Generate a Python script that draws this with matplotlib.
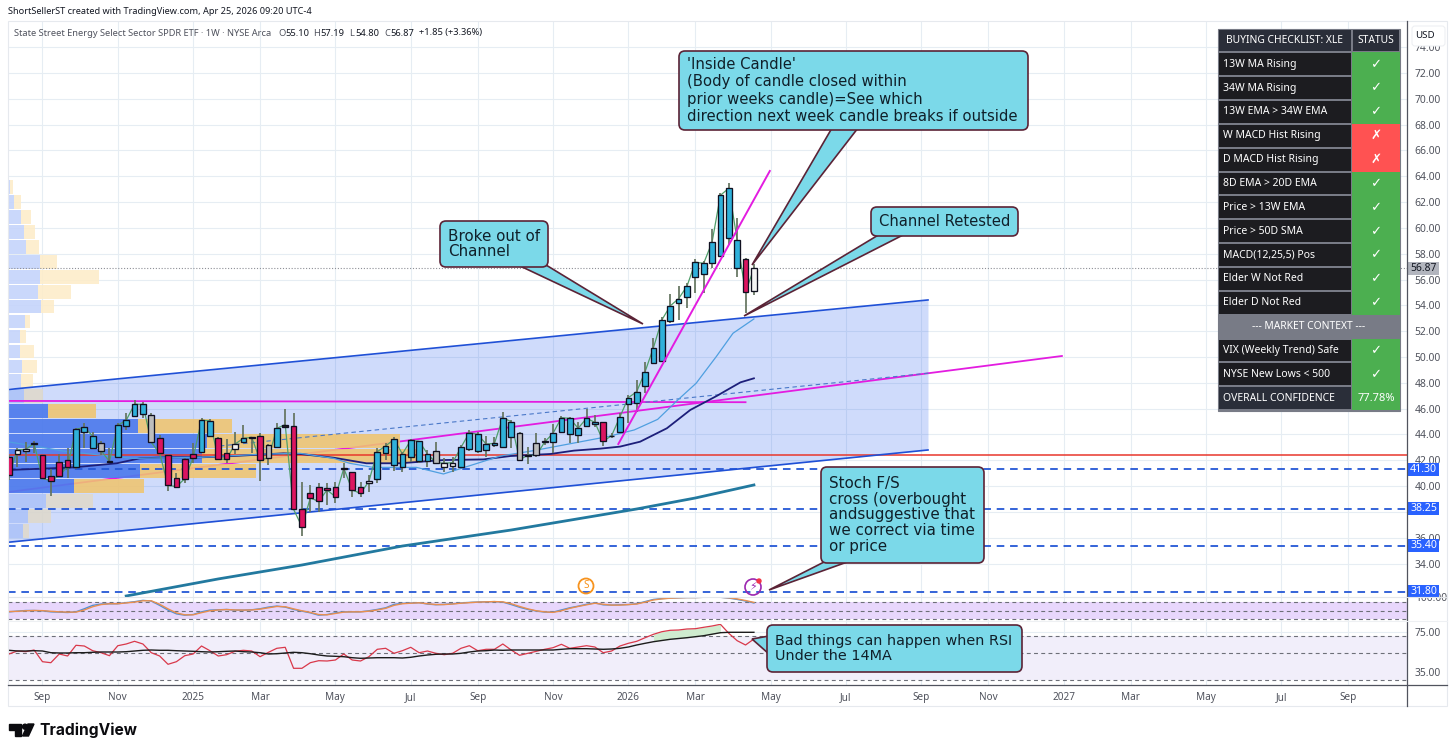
import matplotlib
matplotlib.use('Agg')
import matplotlib.pyplot as plt
from matplotlib.patches import FancyBboxPatch, Polygon, Circle, Rectangle
import numpy as np

W, H = 1456, 754
BODY_FONT = 'DejaVu Sans'
THIN_FONT = 'Noto Sans'

# weekly candles, prices
body_top = [42.23,42.80,42.85,43.31,42.41,40.76,41.89,42.02,44.40,44.55,43.88,43.31,41.92,44.71,45.10,46.34,46.34,45.51,43.70,42.41,
            40.60,42.07,42.46,45.10,45.07,43.70,42.54,43.26,43.70,43.78,43.88,43.16,44.48,44.76,44.68,38.20,39.44,39.91,39.85,39.91,
            41.38,41.07,39.96,40.37,42.67,43.11,43.62,42.49,43.55,43.47,42.49,42.75,41.77,41.82,43.00,44.14,44.01,43.26,43.31,45.30,
            44.99,44.09,42.41,43.31,43.52,44.09,45.30,45.25,44.48,45.25,44.94,44.94,43.91,45.38,46.85,47.32,48.87,50.73,52.87,53.96,
            54.52,55.48,57.34,57.26,58.89,62.53,63.07,59.07,57.57,56.87]
body_bot = [40.84,42.49,42.69,43.26,40.60,40.42,40.81,41.51,41.45,44.17,42.98,42.75,41.84,42.23,44.68,45.46,45.56,43.39,42.54,40.06,
            39.96,40.58,42.20,42.64,43.88,42.10,42.07,42.90,43.44,43.73,42.00,42.20,43.06,44.61,38.20,36.86,39.08,38.82,39.70,39.18,
            41.33,39.70,39.44,40.22,40.58,42.54,41.61,41.51,42.23,41.92,41.97,41.82,41.48,41.53,41.51,42.90,42.69,42.77,43.19,43.06,
            43.78,42.02,42.33,42.38,43.42,43.39,44.19,44.04,43.93,44.66,44.81,43.47,43.86,44.17,46.34,46.41,47.76,49.51,49.72,52.82,
            54.16,54.63,56.18,56.41,57.31,57.85,59.20,56.92,55.01,55.10]
wick_hi = [42.41,42.93,43.44,43.49,42.41,41.30,42.49,42.93,44.48,44.86,44.22,43.49,42.93,44.86,45.64,46.67,46.54,45.64,43.96,42.41,
           41.04,42.15,43.31,45.30,45.17,43.78,43.62,44.17,44.71,43.83,44.09,43.24,44.92,45.95,45.64,40.35,40.09,40.22,40.27,40.35,
           41.82,41.07,40.35,40.86,42.93,43.31,43.83,42.67,43.62,43.49,42.80,43.44,42.15,42.28,43.19,44.35,44.22,43.88,43.83,45.72,
           45.12,44.22,43.06,44.09,43.70,44.79,45.43,45.33,44.99,45.95,45.51,44.99,44.09,45.64,47.06,48.22,49.64,51.45,53.08,54.86,
           55.50,55.76,57.57,57.47,59.89,62.73,63.46,60.75,57.65,57.19]
wick_lo = [40.47,41.45,41.89,42.59,40.60,39.26,40.73,40.65,41.30,42.93,42.93,42.41,41.84,42.15,44.35,45.38,45.25,43.31,42.49,39.65,
           39.83,40.27,41.77,42.54,43.83,42.07,41.77,42.49,43.37,42.59,40.40,41.64,43.06,44.61,38.15,36.14,38.02,38.02,38.54,38.72,
           40.60,39.13,39.18,39.57,40.22,42.02,41.20,41.12,41.89,41.77,41.51,41.71,41.12,41.12,41.38,42.72,42.54,42.23,43.06,43.00,
           42.93,41.94,41.71,42.28,43.19,42.59,44.09,43.31,43.31,44.55,44.61,43.13,43.70,44.09,44.86,45.77,47.24,49.46,49.64,52.66,
           52.87,53.77,54.99,54.94,56.87,57.73,58.68,56.18,53.39,54.80]
candle_kind = list('rwwwrrrrbbbgkbbbbgrrrrrbbrrwbkrgbkrrrrrrkrrwbbbbbbbgwwbbbbbbbgkggbbbbbbrkb' + 'bbbbbbbbbbbbbb' + 'rw')

week_ticks = [4,13,22,30,39,48,56,65,74,82,91,100,109,117,126,134,143,152,160]
week_labels = ['Sep','Nov','2025','Mar','May','Jul','Sep','Nov','2026','Mar','May','Jul','Sep','Nov','2027','Mar','May','Jul','Sep']
price_ticks = [34,36,40,42,44,46,48,50,52,54,56,58,60,62,64,66,68,70,72,74]
grid_levels = [34,36,38,40,42,44,46,48,50,52,54,56,58,60,62,64,66,68,70,72,74]

# trend lines as (week, price) ends
chan_x = [-0.12, 109.8]
chan_up = [47.48, 54.42]
chan_lo = [35.65, 42.80]
mid_x = [-0.12, 125.8]
mid_y = [39.54, 50.08]
dash_x = [25.2, 110]
dash_y = [43.11, 48.76]
steep_x = [72.8, 90.9]
steep_y = [43.26, 64.41]
flat_x = [-0.12, 88]
flat_y = [46.6, 46.5]
red_level = 42.41
levels = [41.30, 38.25, 35.40, 31.80]
last_close = 56.87

teal_x = [14,25,35,47,60,75,82,89]
teal_y = [31.49,32.81,33.89,35.36,36.60,38.23,39.08,40.09]
navy_x = [0,7.7,12.9,15.6,18.8,22.8,26.8,32.8,34.8,38.8,42.7,46.7,51.9,56.7,59.9,64.7,67.5,70.6,73,75.4,78.6,81.4,84.6,85.8,87.4,89]
navy_y = [41.25,41.45,41.77,42.15,42.23,42.23,42.33,42.54,42.49,42.2,41.77,41.77,42.02,42.07,42.33,42.49,42.75,42.9,43.06,43.44,44.48,45.9,47.0,47.45,48.04,48.35]
sky_x = [0,3,6.9,10.9,14.8,22.8,30.8,34.8,38.8,40.7,43.5,46.7,48.7,51.9,54.7,58.7,62.7,66.7,71.5,74.7,77.5,79.9,82.1,84.5,86.5,89]
sky_y = [43.42,43.11,42.67,42.41,42.15,42.23,42.49,42.54,42.15,41.77,41.45,41.45,41.45,40.94,41.51,42.33,42.75,43.24,43.83,44.35,45.17,46.67,47.97,50.03,51.84,52.95]

# volume profile rows (level, up width, down width)
vp_price = [63.17,62.01,60.85,59.70,58.54,57.38,56.22,55.06,53.91,52.75,51.59,50.43,49.27,48.12,46.96,45.80,44.64,43.49,42.33,41.17,40.01,38.85,37.70,36.54]
vp_up = [1.7,5.7,12.7,16.3,18,32,32.3,30.3,33,17.3,12,12,14,12.7,16,39.7,130,198.7,193.7,132,65.7,37.7,19.7,15.3]
vp_down = [3.7,7.7,10.3,10.7,12.7,17,58.3,33,13,4.7,6,14,15.3,12.7,19.3,48,94,193,217,116,70.7,47.7,23.7,5.3]
vp_kind = list('ppppppppppppppt' + 'vvvvvv' + 'ttt')

stoch_k = [45,47.6,50,50,48.9,45,44,42.6,45,56.4,69,73.9,75,75,79,82.6,87.6,85,69,51.4,37.6,32.6,35,45,51.4,52.6,53.9,51.4,51.4,52.6,
           56.4,62.6,66.4,62.6,53.9,47.6,41.4,32.6,35,41.4,45,45,45,48.9,53.9,60,72.6,76.4,77.6,79,73.9,71.4,72.6,75,77.6,80,81.4,
           82,83,81,72,62,54,48,44,44,52,60,66,73,78,71,70,71,72,75,83,91,94,96,97,98,98,99,99,99,96,91,85,78]
stoch_d = [46,47,49,50,49.5,47,45,44,44,52,64,72,75,75,78,81,86,86,73,56,41,34,34,42,49,52,53.5,52,51.5,52,
           55,60,65,64,56,49,43,35,34,39,44,45,45,47.5,52,58,69,75,77,78.5,75,72,72,74,77,79,81,
           82,83,82,75,65,56,49,45,43,49,58,65,71,77,73,70,70,72,74,81,89,93,95.5,97,98,98,99,99,99,97,93,87,80]
rsi = [53,56,55.3,57,45.3,44.3,53,51,61.7,61,56.3,54.3,51.3,61.3,63,65.7,63,54.3,51,42.7,45.3,51.3,53,61,56.3,51,52.3,55.7,56.7,56,
       50.3,54.7,58.7,59.7,38.7,38.7,44.3,46.3,46,47,53,47,46,50.3,57.7,58.7,53.7,56.3,59.7,54.3,56,53.7,52.3,53.7,58.7,61.3,56.3,57.7,57.7,
       63,57,51.7,53.7,55.7,57.7,59.3,62.7,58.7,60,61.3,60,54.3,56,61,63.7,65.7,69.3,72.7,75.3,76.7,77,78,78.3,79.7,81,82.7,73.7,66.3,62,68]
rsi_ma = [56.7,56,56,56.3,56,54.3,54,54,54.3,54.3,54.7,55,55,55,55.3,56,56.7,57,56.7,56.7,56.3,56,55.7,55.3,55,55.3,55.7,56,55.3,55,
          54.3,53,53.3,54,54.7,54.3,53.3,52,51,50.7,50.3,49.3,48.7,49,49.3,49.3,49.3,49,49.7,51,52,52.7,53,53,53.7,55,56,56.3,57,
          56.7,57,57,57,57,57,57,57.7,58.3,58.3,58.3,58,57.7,58,58.7,60,62,63.7,65.3,66.5,67.7,68.5,69.3,70.3,71.3,72.8,74.3,74.7,74.7,74.7,74.7]

check_rows = ['13W MA Rising','34W MA Rising','13W EMA > 34W EMA','W MACD Hist Rising','D MACD Hist Rising','8D EMA > 20D EMA',
              'Price > 13W EMA','Price > 50D SMA','MACD(12,25,5) Pos','Elder W Not Red','Elder D Not Red','--- MARKET CONTEXT ---',
              'VIX (Weekly Trend) Safe','NYSE New Lows < 500','OVERALL CONFIDENCE']
check_state = ['✓','✓','✓','✗','✗','✓','✓','✓','✓','✓','✓','','✓','✓','77.78%']

BLUE = '#2fb1da'
CANDLE = {'b': BLUE, 'r': '#dc1460', 'w': '#f4f4f4', 'g': '#bdbdbd', 'k': '#222222'}
GRID = '#e6edf3'
AXTXT = '#4f525c'
CYAN = '#7bd9e9'
MAROON = '#5b2336'
LEVEL = '#2457d6'


def pane(left, top, right, bottom):
    return fig.add_axes([left / W, 1 - bottom / H, (right - left) / W, (bottom - top) / H])


fig = plt.figure(figsize=(W / 100, H / 100), dpi=100, facecolor='white')
xlim = (-0.12, 167.03)

ax = pane(8, 21, 1407, 597)
ax_st = pane(8, 597, 1407, 624)
ax_rsi = pane(8, 624, 1407, 685)

for a in [ax, ax_st, ax_rsi]:
    a.set_xlim(xlim)
    a.set_xticks(week_ticks)
    a.grid(axis='x', color=GRID, linewidth=0.8, zorder=0)
    a.set_axisbelow(True)
    a.yaxis.tick_right()
    a.tick_params(length=0, labelcolor=AXTXT, labelsize=7.4, pad=5.5)
    for s in a.spines.values():
        s.set_visible(False)
    a.patch.set_alpha(0)

# --- price pane ---
ax.set_ylim(72 - (597 - 73) / 12.91, 72 + (73 - 21) / 12.91)
ax.set_yticks(price_ticks)
ax.set_yticklabels([f'{t:.2f}' for t in price_ticks], fontfamily=THIN_FONT)
ax.set_xticklabels([])
for g in grid_levels:
    ax.axhline(g, color=GRID, lw=0.8, zorder=0.5)

ax.fill_between(chan_x, chan_lo, chan_up, color='#1f56f0', alpha=0.21, zorder=1, linewidth=0)
ax.plot(mid_x, mid_y, color='#e31ce0', lw=1.3, zorder=1.5)

x0 = xlim[0]
px = 8.37  # one week in pixels
for lvl, up, dn, kind in zip(vp_price, vp_up, vp_down, vp_kind):
    c_up, c_dn = {'p': ('#c6d5fb', '#fdecc9'), 'v': ('#4f7bec', '#f0c56f'), 't': ('#aec4f8', '#dfd9cc')}[kind]
    ax.barh(lvl, up / px, height=1.07, left=x0, color=c_up, linewidth=0, zorder=2, alpha=0.93)
    ax.barh(lvl, dn / px, height=1.07, left=x0 + up / px, color=c_dn, linewidth=0, zorder=2, alpha=0.88)

ax.axhline(red_level, color='#e8372c', lw=1.1, zorder=3)
for lvl in levels:
    ax.axhline(lvl, color=LEVEL, lw=1.3, ls=(0, (4.2, 3.2)), zorder=3)
ax.axhline(last_close, color='#8d8f96', lw=0.8, ls=(0, (1, 1.6)), zorder=3)
ax.plot(flat_x, flat_y, color='#e31ce0', lw=1.3, zorder=3)
ax.plot(dash_x, dash_y, color='#4a78c8', lw=0.8, ls=(0, (4, 3)), zorder=3)
ax.plot(chan_x, chan_up, color='#1f50d6', lw=1.2, zorder=3.2)
ax.plot(chan_x, chan_lo, color='#1f50d6', lw=1.2, zorder=3.2)

ax.plot(teal_x, teal_y, color='#22799f', lw=2.0, zorder=4)
ax.plot(navy_x, navy_y, color='#1d1f7a', lw=1.3, zorder=4)
ax.plot(sky_x, sky_y, color='#4f9fe0', lw=0.9, zorder=4)

weeks = np.arange(len(body_top))
closes = [b if k in 'rg' else t for t, b, k in zip(body_top, body_bot, candle_kind)]
ax.plot(weeks, closes, color='#4f9f6a', lw=0.9, zorder=4.5)
ax.vlines(weeks, wick_lo, wick_hi, color='#64745f', lw=1.25, zorder=5)
ax.bar(weeks, np.array(body_top) - np.array(body_bot), bottom=body_bot, width=0.68,
       color=[CANDLE[k] for k in candle_kind], edgecolor='#101020', linewidth=0.95, zorder=6)
ax.plot(steep_x, steep_y, color='#e31ce0', lw=1.4, zorder=7)

# --- stochastic pane ---
ax_st.set_ylim(0, 100)
ax_st.set_yticks([100])
ax_st.set_yticklabels(['100.00'], fontfamily=THIN_FONT)
ax_st.set_xticklabels([])
ax_st.axhspan(20, 80, color='#e8d7fc', zorder=1, linewidth=0)
for v in [80, 50, 20]:
    ax_st.axhline(v, color='#6d6f78', lw=0.8, ls=(0, (3.5, 3)), zorder=2)
ax_st.plot(weeks, stoch_k, color='#4d8fd6', lw=1.0, zorder=3)
ax_st.plot(weeks, stoch_d, color='#ea8f4e', lw=1.0, zorder=4)

# --- rsi pane ---
ax_rsi.set_ylim(22, 83)
ax_rsi.set_yticks([75, 35])
ax_rsi.set_yticklabels(['75.00', '35.00'], fontfamily=THIN_FONT)
ax_rsi.axhline(35, color=GRID, lw=0.8, zorder=0.5)
ax_rsi.axhline(75, color=GRID, lw=0.8, zorder=0.5)
ax_rsi.axhspan(27, 71, color='#f1eefa', zorder=1, linewidth=0)
for v in [71, 54, 27]:
    ax_rsi.axhline(v, color='#6d6f78', lw=0.8, ls=(0, (3.5, 3)), zorder=2)
rsi_a, ma_a = np.array(rsi), np.array(rsi_ma)
ax_rsi.fill_between(weeks[77:86], rsi_a[77:86], ma_a[77:86], color='#cfeccf', linewidth=0, zorder=2.5)
ax_rsi.plot(weeks, rsi, color='#d9384a', lw=0.9, zorder=3)
ax_rsi.plot(weeks, rsi_ma, color='#1c1c1c', lw=1.0, zorder=4)
ax_rsi.set_xticklabels(week_labels, fontfamily=THIN_FONT)
ax_rsi.tick_params(axis='x', pad=5, labelsize=7.2)

# --- overlay for annotations, in pixels ---
ov = fig.add_axes([0, 0, 1, 1], zorder=10)
ov.set_xlim(0, W)
ov.set_ylim(H, 0)
ov.axis('off')
ov.patch.set_alpha(0)

ov.add_patch(Rectangle((8, 21), 1439, 685, fill=False, edgecolor='#e6e9ee', lw=0.8))
ov.plot([1407, 1407], [21, 706], color='#50535e', lw=0.9)
ov.plot([8, 1447], [684.5, 684.5], color='#50535e', lw=0.9)
ov.plot([8, 1447], [597, 597], color='#e3e6ea', lw=0.8)
ov.plot([8, 1447], [620.5, 620.5], color='#eef0f3', lw=0.8)

ov.text(8, 12, 'ShortSellerST created with TradingView.com, Apr 25, 2026 09:20 UTC-4',
        fontsize=6.6, color='#131722', family=THIN_FONT, va='center')
ov.text(14, 33, 'State Street Energy Select Sector SPDR ETF · 1W · NYSE Arca',
        fontsize=6.7, color='#50535e', family=THIN_FONT, va='center')
for xp, s, c in [(278, 'O', '#50535e'), (285.5, '55.10', '#131722'), (313.5, 'H', '#50535e'), (320.5, '57.19', '#131722'),
                 (349.5, 'L', '#50535e'), (355.5, '54.80', '#131722'), (384, 'C', '#50535e'), (390.5, '56.87', '#131722'),
                 (419, '+1.85 (+3.36%)', '#131722')]:
    ov.text(xp, 33, s, fontsize=6.7, color=c, family=THIN_FONT, va='center')


def callout(x, y, w, h, tail, text, fs, lsp=1.08):
    ov.add_patch(Polygon(tail, closed=True, facecolor=CYAN, edgecolor=MAROON, lw=1.2, joinstyle='miter'))
    ov.add_patch(FancyBboxPatch((x, y), w, h, boxstyle='round,pad=0,rounding_size=6',
                                facecolor=CYAN, edgecolor=MAROON, lw=1.2))
    ov.text(x + 8, y + h / 2, text, fontsize=fs, color='#10202a',
            family=BODY_FONT, va='center', ha='left', linespacing=lsp)


callout(679, 51, 349, 79, [(832, 128), (858, 128), (752, 265)],
        "'Inside Candle'\n(Body of candle closed within\nprior weeks candle)=See which\ndirection next week candle breaks if outside", 10.7, lsp=1.17)
callout(871, 207, 147, 29, [(880, 234), (905, 234), (744, 316)], 'Channel Retested', 10.6)
callout(440, 221, 108, 46, [(518, 265), (546, 265), (643, 324)], 'Broke out of\nChannel', 10.9)
callout(821, 467, 163, 96, [(826, 561), (850, 561), (769, 590)],
        'Stoch F/S\ncross (overbought\nandsuggestive that\nwe correct via time\nor price', 10.9)
callout(767, 625, 255, 47, [(769, 636), (769, 654), (752, 639)], 'Bad things can happen when RSI\nUnder the 14MA', 10.4, lsp=1.12)

# event markers
ov.add_patch(Circle((586, 586), 7.5, fill=False, edgecolor='#f7931e', lw=1.3))
ov.text(586, 586, 'S', color='#f7931e', fontsize=7.2, ha='center', va='center', family=THIN_FONT)
ov.add_patch(Circle((753, 587), 8, fill=False, edgecolor='#9c27b0', lw=1.2))
ov.text(753, 587, '⚡', color='#9c27b0', fontsize=8, ha='center', va='center', family='DejaVu Sans')
ov.add_patch(Circle((759, 581), 2, color='#f23645'))

# checklist table
tx0, tx1, tx2 = 1218, 1352, 1400
row_h = 23.85
ty0 = 28.5
ov.add_patch(Rectangle((tx0, ty0), tx2 - tx0, row_h * 16 + 0.5, facecolor='#787b86', edgecolor='#787b86', lw=0.8))
for xa, xb, s in [(tx0, tx1, 'BUYING CHECKLIST: XLE'), (tx1, tx2, 'STATUS')]:
    ov.add_patch(Rectangle((xa + 1, ty0 + 1), xb - xa - 2, row_h - 2, facecolor='#2a2e39', linewidth=0))
    ov.text((xa + xb) / 2, ty0 + row_h / 2, s, color='white', fontsize=7.4, ha='center', va='center',
            family=THIN_FONT, fontweight='medium')
for n, (label, state) in enumerate(zip(check_rows, check_state)):
    yy = ty0 + row_h * (n + 1)
    if state == '':
        ov.text((tx0 + tx2) / 2, yy + row_h / 2, label, color='white', fontsize=7.4, ha='center', va='center',
                family=THIN_FONT, fontweight='medium')
        continue
    left_c = '#2a2e39' if n == 14 else '#1c1c20'
    right_c = '#ff5252' if state == '✗' else '#4caf50'
    ov.add_patch(Rectangle((tx0 + 1, yy + 1), tx1 - tx0 - 2, row_h - 2, facecolor=left_c, linewidth=0))
    ov.add_patch(Rectangle((tx1, yy), tx2 - tx1, row_h, facecolor=right_c, linewidth=0))
    ov.text(tx0 + 5, yy + row_h / 2, label, color='white', fontsize=7.5, ha='left', va='center',
            family=THIN_FONT, fontweight='medium')
    ov.text((tx1 + tx2) / 2, yy + row_h / 2, state, color='white', fontsize=8 if n == 14 else 9.5, ha='center',
            va='center', family=THIN_FONT if n == 14 else 'DejaVu Sans', fontweight='medium' if n == 14 else 'bold')

# axis labels and tags on the price scale
ov.add_patch(FancyBboxPatch((1412, 26), 33, 20, boxstyle='round,pad=0,rounding_size=3', facecolor='white',
                            edgecolor='#eef0f3', lw=0.8))
ov.text(1425, 36, 'USD', fontsize=7, color='#131722', ha='center', va='center', family=THIN_FONT)
ov.add_patch(Rectangle((1408, 262), 31, 13, facecolor='#b2b5be', linewidth=0))
ov.text(1423.5, 268.5, '56.87', fontsize=7.4, color='#131722', ha='center', va='center', family=THIN_FONT)
for lvl in levels:
    yy = 73 + (72 - lvl) * 12.91
    ov.add_patch(Rectangle((1408, yy - 6.5), 31, 13, facecolor='#2962ff', linewidth=0))
    ov.text(1423.5, yy, f'{lvl:.2f}', fontsize=7.6, color='white', ha='center', va='center', family=THIN_FONT)

# logo
ov.add_patch(Polygon([(9, 724), (21, 724), (21, 736), (15, 736), (15, 730), (9, 730)], color='#0b0b0f'))
ov.add_patch(Circle((25, 726.7), 2.5, color='#0b0b0f'))
ov.add_patch(Polygon([(28, 724), (34, 724), (28.5, 736), (22.5, 736)], color='#0b0b0f'))
ov.text(39, 730, 'TradingView', fontsize=11.2, fontweight='bold', color='#0b0b0f', family='Inter', va='center')

fig.savefig('out.png', dpi=100, facecolor='white')
